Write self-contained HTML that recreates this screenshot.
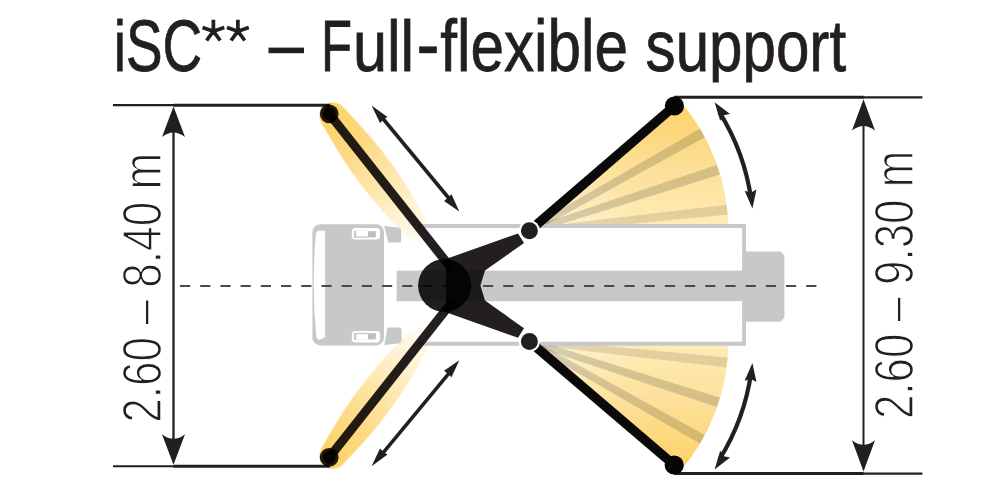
<!DOCTYPE html>
<html><head><meta charset="utf-8">
<style>
html,body{margin:0;padding:0;background:#fff;width:1000px;height:500px;overflow:hidden}
svg{display:block}
.mul{mix-blend-mode:multiply}
</style></head>
<body>
<svg width="1000" height="500" viewBox="0 0 1000 500">
<defs>
  <clipPath id="titleClip"><rect x="0" y="0" width="1000" height="82.6"/></clipPath>
  <linearGradient id="fanT" x1="0" y1="100" x2="0" y2="230" gradientUnits="userSpaceOnUse">
    <stop offset="0" stop-color="#fcd264"/>
    <stop offset="0.55" stop-color="#fde09a"/>
    <stop offset="1" stop-color="#feedb8"/>
  </linearGradient>
  <radialGradient id="fanW" cx="529.4" cy="230.8" r="200" gradientUnits="userSpaceOnUse">
    <stop offset="0" stop-color="#fff" stop-opacity="0.5"/>
    <stop offset="0.3" stop-color="#fff" stop-opacity="0.18"/>
    <stop offset="0.55" stop-color="#fff" stop-opacity="0"/>
  </radialGradient>
  <linearGradient id="glow" x1="0" y1="0" x2="1" y2="0">
    <stop offset="0" stop-color="#fdd263" stop-opacity="1"/>
    <stop offset="0.4" stop-color="#fddb86" stop-opacity="1"/>
    <stop offset="0.75" stop-color="#feeab6" stop-opacity="0.85"/>
    <stop offset="1" stop-color="#fff5dc" stop-opacity="0"/>
  </linearGradient>
  <filter id="blur" x="-20%" y="-50%" width="140%" height="200%"><feGaussianBlur stdDeviation="0.6"/></filter>
  <clipPath id="fanClip"><path d="M529.4,230.8 L678.9,99.8 A199,199 0 0 1 728.4,230.8 Z"/></clipPath>
  <g id="fan">
    <path d="M529.4,230.8 L678.9,99.8 A199,199 0 0 1 728.4,230.8 Z" fill="url(#fanT)"/>
    <path d="M529.4,230.8 L678.9,99.8 A199,199 0 0 1 728.4,230.8 Z" fill="url(#fanW)"/>
    <g fill="#231f20" fill-opacity="0.18" clip-path="url(#fanClip)">
      <path d="M538.7,229.0 L708.5,135.2 L703.6,126.5 L535.8,223.8 Z"/>
      <path d="M538.9,230.9 L724.1,173.2 L721.0,163.6 L537.0,225.2 Z"/>
      <path d="M538.7,232.8 L731.8,214.2 L730.7,204.3 L538.0,226.9 Z" fill-opacity="0.13"/>
    </g>
  </g>
  <linearGradient id="glowU" x1="-13.5" y1="0" x2="165" y2="0" gradientUnits="userSpaceOnUse">
    <stop offset="0" stop-color="#fdd263" stop-opacity="1"/>
    <stop offset="0.3" stop-color="#fdd985" stop-opacity="1"/>
    <stop offset="0.6" stop-color="#fee8b0" stop-opacity="0.92"/>
    <stop offset="0.85" stop-color="#fff2d0" stop-opacity="0.6"/>
    <stop offset="1" stop-color="#fff8e6" stop-opacity="0"/>
  </linearGradient>
  <g id="glowL">
    <g transform="translate(333,116) rotate(53.4)" filter="url(#blur)">
      <path d="M-13.5,0.0 L-13.5,0.7 L-13.4,1.4 L-13.3,2.1 L-13.2,2.8 L-13.0,3.5 L-12.8,4.2 L-12.6,4.8 L-12.3,5.5 L-12.0,6.1 L-11.7,6.7 L-11.3,7.4 L-10.9,7.9 L-10.5,8.5 L-10.0,9.0 L-9.5,9.5 L-9.0,10.0 L-8.5,10.5 L-7.9,10.9 L-7.4,11.3 L-6.8,11.7 L-6.1,12.0 L-5.5,12.3 L-4.8,12.6 L-4.2,12.8 L-3.5,13.0 L-2.8,13.2 L-2.1,13.3 L-1.4,13.4 L-0.7,13.5 L-0.0,13.5 L3.2,13.9 L6.5,14.3 L9.8,14.7 L13.0,15.0 L16.2,15.4 L19.5,15.8 L22.8,16.1 L26.0,16.4 L29.2,16.7 L32.5,17.0 L35.8,17.3 L39.0,17.5 L42.2,17.8 L45.5,18.0 L48.8,18.1 L52.0,18.3 L55.2,18.4 L58.5,18.4 L61.8,18.5 L65.0,18.5 L67.5,18.5 L70.0,18.5 L72.5,18.4 L75.0,18.4 L77.5,18.4 L80.0,18.3 L82.5,18.2 L85.0,18.1 L87.5,18.0 L90.0,17.9 L92.5,17.8 L95.0,17.6 L97.5,17.5 L100.0,17.3 L102.5,17.1 L105.0,17.0 L107.5,16.7 L110.0,16.5 L112.5,16.3 L115.0,16.0 L117.5,15.7 L120.0,15.5 L122.5,15.1 L125.0,14.8 L127.5,14.4 L130.0,14.1 L132.5,13.6 L135.0,13.2 L137.5,12.7 L140.0,12.2 L142.5,11.7 L145.0,11.1 L147.5,10.5 L150.0,9.7 L152.5,9.0 L155.0,8.1 L157.5,7.0 L160.0,5.8 L162.5,4.1 L165.0,0.0 L165.0,-0.0 L162.5,-4.1 L160.0,-5.8 L157.5,-7.0 L155.0,-8.1 L152.5,-9.0 L150.0,-9.7 L147.5,-10.5 L145.0,-11.1 L142.5,-11.7 L140.0,-12.2 L137.5,-12.7 L135.0,-13.2 L132.5,-13.6 L130.0,-14.1 L127.5,-14.4 L125.0,-14.8 L122.5,-15.1 L120.0,-15.5 L117.5,-15.7 L115.0,-16.0 L112.5,-16.3 L110.0,-16.5 L107.5,-16.7 L105.0,-17.0 L102.5,-17.1 L100.0,-17.3 L97.5,-17.5 L95.0,-17.6 L92.5,-17.8 L90.0,-17.9 L87.5,-18.0 L85.0,-18.1 L82.5,-18.2 L80.0,-18.3 L77.5,-18.4 L75.0,-18.4 L72.5,-18.4 L70.0,-18.5 L67.5,-18.5 L65.0,-18.5 L61.8,-18.5 L58.5,-18.4 L55.2,-18.4 L52.0,-18.3 L48.8,-18.1 L45.5,-18.0 L42.2,-17.8 L39.0,-17.5 L35.8,-17.3 L32.5,-17.0 L29.2,-16.7 L26.0,-16.4 L22.8,-16.1 L19.5,-15.8 L16.2,-15.4 L13.0,-15.0 L9.8,-14.7 L6.5,-14.3 L3.2,-13.9 L-0.0,-13.5 L-0.7,-13.5 L-1.4,-13.4 L-2.1,-13.3 L-2.8,-13.2 L-3.5,-13.0 L-4.2,-12.8 L-4.8,-12.6 L-5.5,-12.3 L-6.1,-12.0 L-6.8,-11.7 L-7.4,-11.3 L-7.9,-10.9 L-8.5,-10.5 L-9.0,-10.0 L-9.5,-9.5 L-10.0,-9.0 L-10.5,-8.5 L-10.9,-7.9 L-11.3,-7.4 L-11.7,-6.7 L-12.0,-6.1 L-12.3,-5.5 L-12.6,-4.8 L-12.8,-4.2 L-13.0,-3.5 L-13.2,-2.8 L-13.3,-2.1 L-13.4,-1.4 L-13.5,-0.7 L-13.5,-0.0 Z" fill="url(#glowU)"/>
    </g>
  </g>
  <g id="carrow">
    <path d="M719.4,112.1 A224,224 0 0 1 751.2,199.6" fill="none" stroke="#231f20" stroke-width="4.2"/>
    <path d="M714.6,102.2 L730.1,114.0 L723.7,115.3 L720.2,120.8 Z" fill="#231f20"/>
    <path d="M752.4,208.6 L756.5,189.6 L750.8,192.7 L744.6,190.8 Z" fill="#231f20"/>
  </g>
  <g id="sarrow">
    <path d="M382,117.5 L449.5,199" stroke="#231f20" stroke-width="3.6"/>
    <path d="M371.6,105.4 L387.5,117.1 L384.5,118.8 L380,123.1 Z" fill="#231f20"/>
    <path d="M459.3,211.4 L444,200.9 L447.3,198.3 L451.5,194.3 Z" fill="#231f20"/>
  </g>
</defs>

<!-- Title -->
<g font-family="Liberation Sans" font-size="73" fill="#231f20" stroke="#231f20" stroke-width="0.8" clip-path="url(#titleClip)">
  <text transform="translate(113.8,71) scale(0.752,1)">iSC</text>
  <path d="M213.4,31.2 L213.4,19.7 M213.4,31.2 L224.3,27.6 M213.4,31.2 L220.2,40.5 M213.4,31.2 L206.6,40.5 M213.4,31.2 L202.5,27.6 M237.9,31.2 L237.9,19.7 M237.9,31.2 L248.8,27.6 M237.9,31.2 L244.7,40.5 M237.9,31.2 L231.1,40.5 M237.9,31.2 L227.0,27.6" fill="none" stroke="#231f20" stroke-width="3.7" stroke-linecap="butt"/>
  <rect x="268.5" y="47.6" width="35.5" height="5.6" stroke="none"/>
  <text transform="translate(320.9,71) scale(0.696,1)">F</text>
  <text transform="translate(352.9,71) scale(0.84,1)">ull</text>
  <rect x="419.2" y="46.4" width="17.6" height="6.8" stroke="none"/>
  <text transform="translate(440.3,71) scale(0.826,1)">flexible</text>
  <text transform="translate(645.6,71) scale(0.8235,1)">support</text>
</g>

<!-- fans (under chassis) -->
<use href="#fan"/>
<use href="#fan" transform="translate(0,572.2) scale(1,-1)"/>

<!-- left glows -->
<g class="mul">
  <use href="#glowL"/>
  <use href="#glowL" transform="translate(0,571.2) scale(1,-1)"/>
</g>

<!-- truck chassis -->
<rect x="425" y="228" width="317.2" height="113.8" fill="#fff"/>
<g fill="#c7c8ca">
  <path d="M418,224 H746 V345.8 H418 V341.8 H742.2 V228 H418 Z"/>
  <rect x="396.6" y="270.6" width="350" height="30.6"/>
  <path d="M742.4,251.6 H780.4 L784.4,255.6 V317.7 L780.4,321.7 H742.4 Z"/>
</g>
<!-- cab -->
<g>
  <rect x="312.4" y="224.2" width="71.6" height="121.2" rx="8" ry="8" fill="#c7c8ca"/>
  <path d="M315.8,234.5 Q316.3,230.2 320.5,230.4 L325.2,230.9 V337 L320.5,339.6 Q317,340.6 316.3,337 Q311.4,286 315.8,234.5 Z" fill="#fff"/>
  <g id="mir">
    <rect x="351.8" y="228" width="28.2" height="11.6" rx="3.5" fill="#fff"/>
    <rect x="354" y="230.8" width="14" height="7" fill="#c7c8ca"/>
    <rect x="356.2" y="230.8" width="11.8" height="5.6" fill="#fff"/>
    <rect x="368" y="231.2" width="7.8" height="6.2" fill="#bdbec0"/>
  </g>
  <use href="#mir" transform="translate(0,570.6) scale(1,-1)"/>
  <path d="M384.2,226 L398,227.4 Q401.2,227.8 401.2,231 V240 Q401.2,242.6 398.6,242.6 H388.4 Q386.2,234 384.2,226 Z" fill="#c7c8ca"/>
  <path d="M384.2,345 L398,343.6 Q401.6,343.2 401.6,340 V330.4 Q401.6,327.4 398.6,327.4 H387.4 Q386.2,336.4 384.2,345 Z" fill="#c7c8ca"/>
</g>

<!-- dashed centre line -->
<line x1="180" y1="286" x2="817" y2="286" stroke="#4a4a4c" stroke-width="1.8" stroke-dasharray="10.2 10"/>

<!-- left dimension -->
<g stroke="#231f20" fill="none">
  <line x1="113" y1="105.1" x2="174" y2="105.1" stroke-width="2.1"/>
  <line x1="173.5" y1="105.2" x2="330" y2="105.2" stroke-width="2.9"/>
  <line x1="113" y1="466.2" x2="174" y2="466.2" stroke-width="2.1"/>
  <line x1="173.5" y1="466.2" x2="330" y2="466.2" stroke-width="2.9"/>
  <line x1="173.5" y1="120" x2="173.5" y2="450" stroke-width="2.3"/>
</g>
<path d="M173.5,106.5 L185,137 Q173.5,128 162,137 Z" fill="#231f20"/>
<path d="M173.5,464.7 L185,434.2 Q173.5,443.2 162,434.2 Z" fill="#231f20"/>

<!-- right dimension -->
<g stroke="#231f20" fill="none">
  <line x1="674" y1="97.3" x2="863.5" y2="97.3" stroke-width="3"/>
  <line x1="863" y1="97.3" x2="922.4" y2="97.3" stroke-width="2.3"/>
  <line x1="674" y1="473.6" x2="863.5" y2="473.6" stroke-width="3"/>
  <line x1="863" y1="473.6" x2="922.4" y2="473.6" stroke-width="2.3"/>
  <line x1="863.5" y1="112" x2="863.5" y2="458" stroke-width="2"/>
</g>
<path d="M863.5,99.2 L875,130.4 Q863.5,121.4 852,130.4 Z" fill="#231f20"/>
<path d="M863.5,471.4 L875,440.2 Q863.5,449.2 852,440.2 Z" fill="#231f20"/>

<!-- arrows -->
<use href="#carrow"/>
<use href="#carrow" transform="translate(0,571.6) scale(1,-1)"/>
<use href="#sarrow"/>
<use href="#sarrow" transform="translate(0,571.6) scale(1,-1)"/>

<!-- dark mechanism -->
<g class="mul">
  <g stroke="#231f20" stroke-width="9" fill="none">
    <line x1="332.4" y1="117.7" x2="452.6" y2="270"/>
    <line x1="332.4" y1="453.5" x2="452.6" y2="301.2"/>
  </g>
</g>
<g class="mul">
  <path d="M446,259 L518,233.4 L524,243 L485,270.6 L480.4,285.6 L485,300.6 L524,328.2 L518,337.8 L446,312.2 Z" fill="#231f20"/>
</g>
<g class="mul">
  <circle cx="444.6" cy="285.6" r="26.5" fill="#231f20"/>
</g>
<g class="mul">
  <circle cx="329.2" cy="113.8" r="9.4" fill="#231f20"/>
  <circle cx="329.2" cy="113.8" r="6.5" fill="#231f20" class="mul"/>
  <circle cx="329.2" cy="457.4" r="9.4" fill="#231f20"/>
  <circle cx="329.2" cy="457.4" r="6.5" fill="#231f20" class="mul"/>
</g>
<!-- right booms -->
<g stroke="#0a0a0a" stroke-width="9.5">
  <line x1="529.4" y1="230.8" x2="674.4" y2="106"/>
  <line x1="529.4" y1="341.4" x2="674.2" y2="465"/>
</g>
<circle cx="674.4" cy="106" r="9.6" fill="#050505"/>
<circle cx="674.2" cy="465" r="9.6" fill="#050505"/>
<circle cx="529.4" cy="230.8" r="10.6" fill="#fff"/>
<circle cx="529.4" cy="230.8" r="8.5" fill="#231f20"/>
<circle cx="529.4" cy="341.4" r="10.6" fill="#fff"/>
<circle cx="529.4" cy="341.4" r="8.5" fill="#231f20"/>

<!-- dimension labels -->
<text font-family="Liberation Sans" font-size="56" fill="#231f20" stroke="#fff" stroke-width="1.4" transform="translate(161.2,422.8) rotate(-90) scale(0.789,1)">2.60 – 8.40 m</text>
<text font-family="Liberation Sans" font-size="56" fill="#231f20" stroke="#fff" stroke-width="1.4" transform="translate(912.8,419.1) rotate(-90) scale(0.784,1)">2.60 – 9.30 m</text>
</svg>
</body></html>
